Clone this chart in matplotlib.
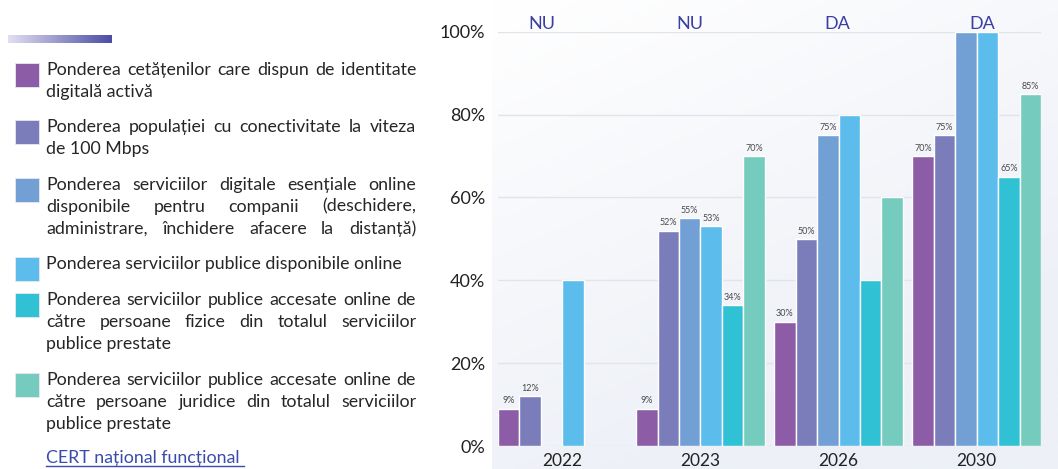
import numpy as np
import matplotlib.pyplot as plt
from matplotlib.colors import LinearSegmentedColormap, to_rgb
from matplotlib.patches import Rectangle

# date
years = ['2022', '2023', '2026', '2030']
identitate = [9, 9, 30, 70]
conectivitate = [12, 52, 50, 75]
servicii_companii = [np.nan, 55, 75, 100]
servicii_online = [40, 53, 80, 100]
accesate_fizice = [np.nan, 34, 40, 65]
accesate_juridice = [np.nan, 70, 60, 85]
series = [identitate, conectivitate, servicii_companii,
          servicii_online, accesate_fizice, accesate_juridice]

# which bars carry a value label
show_identitate = [True, True, True, True]
show_conectivitate = [True, True, True, True]
show_companii = [False, True, True, False]
show_online = [False, True, False, False]
show_fizice = [False, True, False, True]
show_juridice = [False, True, False, True]
shows = [show_identitate, show_conectivitate, show_companii,
         show_online, show_fizice, show_juridice]

cert_status = ['NU', 'NU', 'DA', 'DA']
yticks = [0, 20, 40, 60, 80, 100]

legend_lines = [
    ['Ponderea cetățenilor care dispun de identitate', 'digitală activă'],
    ['Ponderea populației cu conectivitate la viteza', 'de 100 Mbps'],
    ['Ponderea serviciilor digitale esențiale online',
     'disponibile pentru companii (deschidere,',
     'administrare, închidere afacere la distanță)'],
    ['Ponderea serviciilor publice disponibile online'],
    ['Ponderea serviciilor publice accesate online de',
     'către persoane fizice din totalul serviciilor',
     'publice prestate'],
    ['Ponderea serviciilor publice accesate online de',
     'către persoane juridice din totalul serviciilor',
     'publice prestate'],
]
cert_text = 'CERT național funcțional '

colors = ['#8C5CA6', '#7B7DBB', '#72A0D5', '#5CBDEC', '#31C1D5', '#75CBBE']
W, H = 1058, 469
plt.rcParams['font.family'] = ['Lato', 'DejaVu Sans']

fig = plt.figure(figsize=(W / 100, H / 100), dpi=100)

# background layer in pixel coordinates
bg = fig.add_axes([0, 0, 1, 1], zorder=-1)
gx = np.linspace(0, 1, 200)
gy = np.linspace(0, 1, 100)
t = np.clip(0.45 * gx[None, :] + 0.85 * gy[:, None], 0, 1)
c0 = np.array(to_rgb('#FFFFFF'))
c1 = np.array(to_rgb('#EDF0F7'))
grad = c0 + (c1 - c0) * t[..., None]
bg.imshow(grad, extent=[492, W, H, 0], aspect='auto', interpolation='bicubic')
bar_cmap = LinearSegmentedColormap.from_list('bar', ['#E2DEF1', '#4B4EA5'])
bg.imshow(np.linspace(0, 1, 100)[None, :], cmap=bar_cmap,
          extent=[8, 112, 43, 35], aspect='auto')
bg.set_xlim(0, W)
bg.set_ylim(H, 0)
bg.axis('off')

# chart
ax = fig.add_axes([498 / W, (H - 446) / H, 543 / W, (446 - 31.7) / H])
ax.set_facecolor('none')
w = 0.1553
x = np.arange(len(years))
for j, (vals, flags) in enumerate(zip(series, shows)):
    xs = x + (j - 2.5) * w
    ax.bar(xs, vals, width=w, color=colors[j], edgecolor='white',
           linewidth=1, zorder=3)
    for xi, v, f in zip(xs, vals, flags):
        if f:
            ax.text(xi, v + 0.8, f'{v}%', ha='center', va='bottom',
                    fontsize=6.5, color='#4a4a4a', zorder=4)

status_dx = [-0.145, -0.075, -0.013, 0.043]
for i, s in enumerate(cert_status):
    ax.text(i + status_dx[i], 101.8, s, ha='center', va='center',
            fontsize=13, color='#3B3FA3', clip_on=False, zorder=5)

ax.set_xlim(-3 * w, len(years) - 1 + 3 * w)
ax.set_ylim(0, 100)
ax.set_xticks(x)
ax.set_xticklabels(years, fontsize=12.5, color='#222222')
ax.set_yticks(yticks)
ax.set_yticklabels([f'{v}%' for v in yticks], fontsize=13, color='#222222')
ax.tick_params(axis='both', length=0)
ax.tick_params(axis='x', pad=5)
ax.tick_params(axis='y', pad=9)
ax.yaxis.grid(True, color='#E2E4EA', linewidth=1)
ax.set_axisbelow(True)
for sp in ax.spines.values():
    sp.set_visible(False)

# legend on the left, justified like the original
renderer = fig.canvas.get_renderer()
x0, x1 = 46, 416
kw = dict(fontsize=12.8, color='#262626', va='baseline', ha='left')


def put_line(text, y, justify):
    if not justify:
        bg.text(x0, y, text, **kw)
        return
    words = text.split(' ')
    ts = [bg.text(0, y, wd, **kw) for wd in words]
    widths = [tt.get_window_extent(renderer).width for tt in ts]
    gap = (x1 - x0 - sum(widths)) / (len(words) - 1)
    xp = x0
    for tt, wd in zip(ts, widths):
        tt.set_x(xp)
        xp += wd + gap


first_base = [75, 132, 190, 269, 305, 385]
line_h = 21.8
for k, lines in enumerate(legend_lines):
    yb = first_base[k]
    bg.add_patch(Rectangle((15, yb - 12), 24, 24, facecolor=colors[k],
                           edgecolor='#e8e8f0', linewidth=0.6))
    for n, ln in enumerate(lines):
        # the long closing line of item 3 fills the column in the original
        full = n < len(lines) - 1 or (n > 0 and len(ln) > 42)
        put_line(ln, yb + n * line_h, full)

ct = bg.text(x0, 463, cert_text, fontsize=12.8, color='#3A4BAE',
             va='baseline', ha='left')
cw = ct.get_window_extent(renderer).width
bg.plot([x0, x0 + cw], [466, 466], color='#3A4BAE', linewidth=1)

fig.savefig('out.png', dpi=100)
